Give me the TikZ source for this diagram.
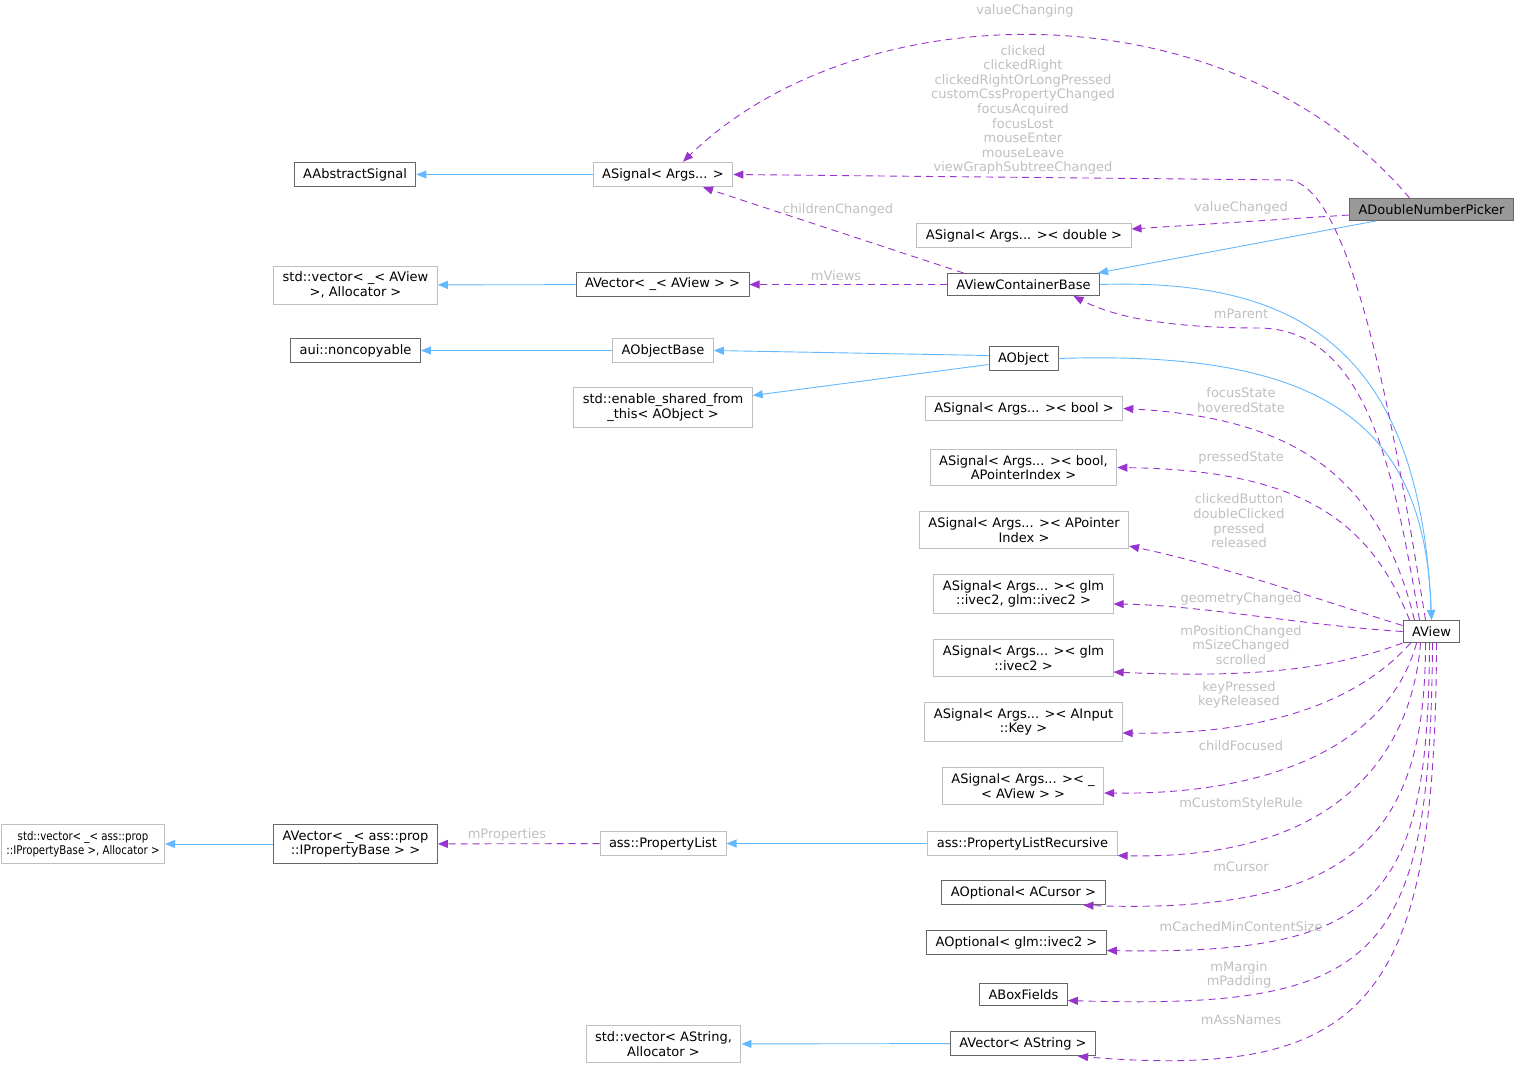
\documentclass[tikz,border=0pt]{standalone}
\usepackage{fontspec}
\setmainfont{DejaVu Sans}
\newfontfamily\narrowfont[FakeStretch=0.85]{DejaVu Sans}
\usepackage{tikz}
\usetikzlibrary{arrows.meta}
\definecolor{inhblue}{HTML}{63B8FF}
\definecolor{usepurple}{HTML}{9A32CD}
\definecolor{lblgray}{HTML}{BFBFBF}
\definecolor{edgedark}{HTML}{666666}
\definecolor{edgelight}{HTML}{BFBFBF}
\definecolor{mainfill}{HTML}{999999}
\begin{document}
\begin{tikzpicture}[x=1pt,y=-1pt,font=\fontsize{13}{14.6}\selectfont,
  >={Triangle[length=10pt,width=8pt]},
  d/.style={draw=edgedark,fill=white,inner xsep=9pt,inner ysep=6pt,align=center,line width=1pt},
  l/.style={d,draw=edgelight},
  m/.style={d,fill=mainfill},
  inh/.style={->,draw=inhblue,line width=0.9pt},
  use/.style={->,draw=usepurple,dash pattern=on 7pt off 5pt,line width=0.9pt},
  lbl/.style={text=lblgray,align=center,inner sep=1pt}]
\useasboundingbox (0,0) rectangle (1521,1077);
% classes
\node[m](pick) at (1431.5,209.5){ADoubleNumberPicker};
\node[d](absig) at (355,174.5){AAbstractSignal};
\node[l](sig) at (663,174.5){ASignal< Args... >};
\node[l](sigdbl) at (1024,235.5){ASignal< Args... >< double >};
\node[l](stdvecview) at (355.5,285){std::vector< \_< AView\\>, Allocator >};
\node[d](vecview) at (662.5,284.5){AVector< \_< AView > >};
\node[d](vcb) at (1023.5,284.5){AViewContainerBase};
\node[d](noncopy) at (355.5,350.5){aui::noncopyable};
\node[l](objbase) at (663,350.5){AObjectBase};
\node[d](obj) at (1023.5,358.5){AObject};
\node[l](enshared) at (663,407.5){std::enable\_shared\_from\\\_this< AObject >};
\node[l](sigbool) at (1024,408.5){ASignal< Args... >< bool >};
\node[l](sigboolidx) at (1023.5,467.5){ASignal< Args... >< bool,\\APointerIndex >};
\node[l](sigidx) at (1024,530){ASignal< Args... >< APointer\\Index >};
\node[l](sigivv) at (1023.5,594){ASignal< Args... >< glm\\::ivec2, glm::ivec2 >};
\node[l](sigiv) at (1023.5,658){ASignal< Args... >< glm\\::ivec2 >};
\node[l](sigkey) at (1023.5,722){ASignal< Args... >< AInput\\::Key >};
\node[l](sigview) at (1023,786){ASignal< Args... >< \_\\< AView > >};
\node[l](plrec) at (1022.5,843.5){ass::PropertyListRecursive};
\node[d](optcur) at (1023.5,892.5){AOptional< ACursor >};
\node[d](optiv) at (1016.5,942.5){AOptional< glm::ivec2 >};
\node[d](boxf) at (1023.5,994.5){ABoxFields};
\node[d](vecstr) at (1023,1043.5){AVector< AString >};
\node[d](view) at (1431.5,631.5){AView};
\node[l,inner xsep=5pt,font=\narrowfont\fontsize{12}{14.6}\selectfont](stdvecprop) at (83,844){std::vector< \_< ass::prop\\::IPropertyBase >, Allocator >};
\node[d](vecprop) at (355.5,844){AVector< \_< ass::prop\\::IPropertyBase > >};
\node[l](plist) at (663,843.5){ass::PropertyList};
\node[l](stdvecstr) at (663.5,1044){std::vector< AString,\\Allocator >};
% inheritance
\draw[inh](sig)--(absig);
\draw[inh](vecview)--(stdvecview);
\draw[inh](objbase)--(noncopy);
\draw[inh]([yshift=3]obj.west)--(objbase.east);
\draw[inh]([yshift=-6]obj.west)--([yshift=12]enshared.east);
\draw[inh]([xshift=-56]pick.south)--([xshift=-2]vcb.north east);
\draw[inh](vcb.east) .. controls (1300,278) and (1420,350) .. (view.north);
\draw[inh](obj.east) .. controls (1320,350) and (1425,420) .. (view.north);
\draw[inh](plrec)--(plist);
\draw[inh](vecprop)--(stdvecprop);
\draw[inh](vecstr)--(stdvecstr);
% usage
\draw[use]([xshift=-22]pick.north) .. controls (1230,-15) and (860,-10) .. ([xshift=20]sig.north);
\draw[use]([xshift=-6]view.north) .. controls (1390,400) and (1350,190) .. (1290,180)--(sig.east);
\draw[use]([yshift=-5.5]pick.west)--([yshift=6.5]sigdbl.east);
\draw[use]([xshift=-60]vcb.north)--([xshift=40]sig.south);
\draw[use](vcb)--(vecview);
\draw[use]([xshift=-12]view.north) .. controls (1395,480) and (1370,330) .. (1260,328) .. controls (1160,328) and (1110,315) .. ([xshift=50]vcb.south);
\draw[use]([xshift=-17]view.north) .. controls (1380,480) and (1300,418) .. (sigbool.east);
\draw[use]([xshift=-22]view.north) .. controls (1370,520) and (1300,470) .. (sigboolidx.east);
\draw[use]([yshift=6]view.west) .. controls (1320,600) and (1220,565) .. ([yshift=-16]sigidx.east);
\draw[use](view.west) .. controls (1300,625) and (1200,605) .. ([yshift=-10]sigivv.east);
\draw[use](view.south west) .. controls (1330,670) and (1250,678) .. ([yshift=-14]sigiv.east);
\draw[use]([xshift=8]view.south west) .. controls (1360,700) and (1270,735) .. ([yshift=-11]sigkey.east);
\draw[use]([xshift=14]view.south west) .. controls (1390,740) and (1280,795) .. ([yshift=-7]sigview.east);
\draw[use]([xshift=18]view.south west) .. controls (1410,770) and (1320,860) .. ([yshift=-12]plrec.east);
\draw[use]([xshift=23]view.south west) .. controls (1425,830) and (1360,915) .. ([xshift=60]optcur.south);
\draw[use]([xshift=27]view.south west) .. controls (1428,900) and (1380,955) .. ([yshift=-8]optiv.east);
\draw[use]([xshift=30]view.south west) .. controls (1430,960) and (1380,1010) .. ([yshift=-6]boxf.east);
\draw[use]([xshift=34]view.south west) .. controls (1435,1000) and (1370,1080) .. ([xshift=55]vecstr.south);
\draw[use](plist)--(vecprop);
% labels
\node[lbl](lValueChanging) at (1025,11){valueChanging};
\node[lbl](lClicked) at (1023,110){clicked\\clickedRight\\clickedRightOrLongPressed\\customCssPropertyChanged\\focusAcquired\\focusLost\\mouseEnter\\mouseLeave\\viewGraphSubtreeChanged};
\node[lbl](lValueChanged) at (1241,208){valueChanged};
\node[lbl](lChildren) at (838,210){childrenChanged};
\node[lbl](lViews) at (836,276){mViews};
\node[lbl](lParent) at (1241,314){mParent};
\node[lbl](lFocus) at (1241,400){focusState\\hoveredState};
\node[lbl](lPressed) at (1241,458){pressedState};
\node[lbl](lButton) at (1239,521){clickedButton\\doubleClicked\\pressed\\released};
\node[lbl](lGeom) at (1241,599){geometryChanged};
\node[lbl](lPos) at (1241,645){mPositionChanged\\mSizeChanged\\scrolled};
\node[lbl](lKey) at (1239,695){keyPressed\\keyReleased};
\node[lbl](lChildFocused) at (1241,746){childFocused};
\node[lbl](lStyle) at (1241,804){mCustomStyleRule};
\node[lbl](lCursor) at (1241,867){mCursor};
\node[lbl](lCached) at (1241,927){mCachedMinContentSize};
\node[lbl](lMargin) at (1239,975){mMargin\\mPadding};
\node[lbl](lAss) at (1241,1020){mAssNames};
\node[lbl](lProps) at (507,835){mProperties};
\end{tikzpicture}
\end{document}
